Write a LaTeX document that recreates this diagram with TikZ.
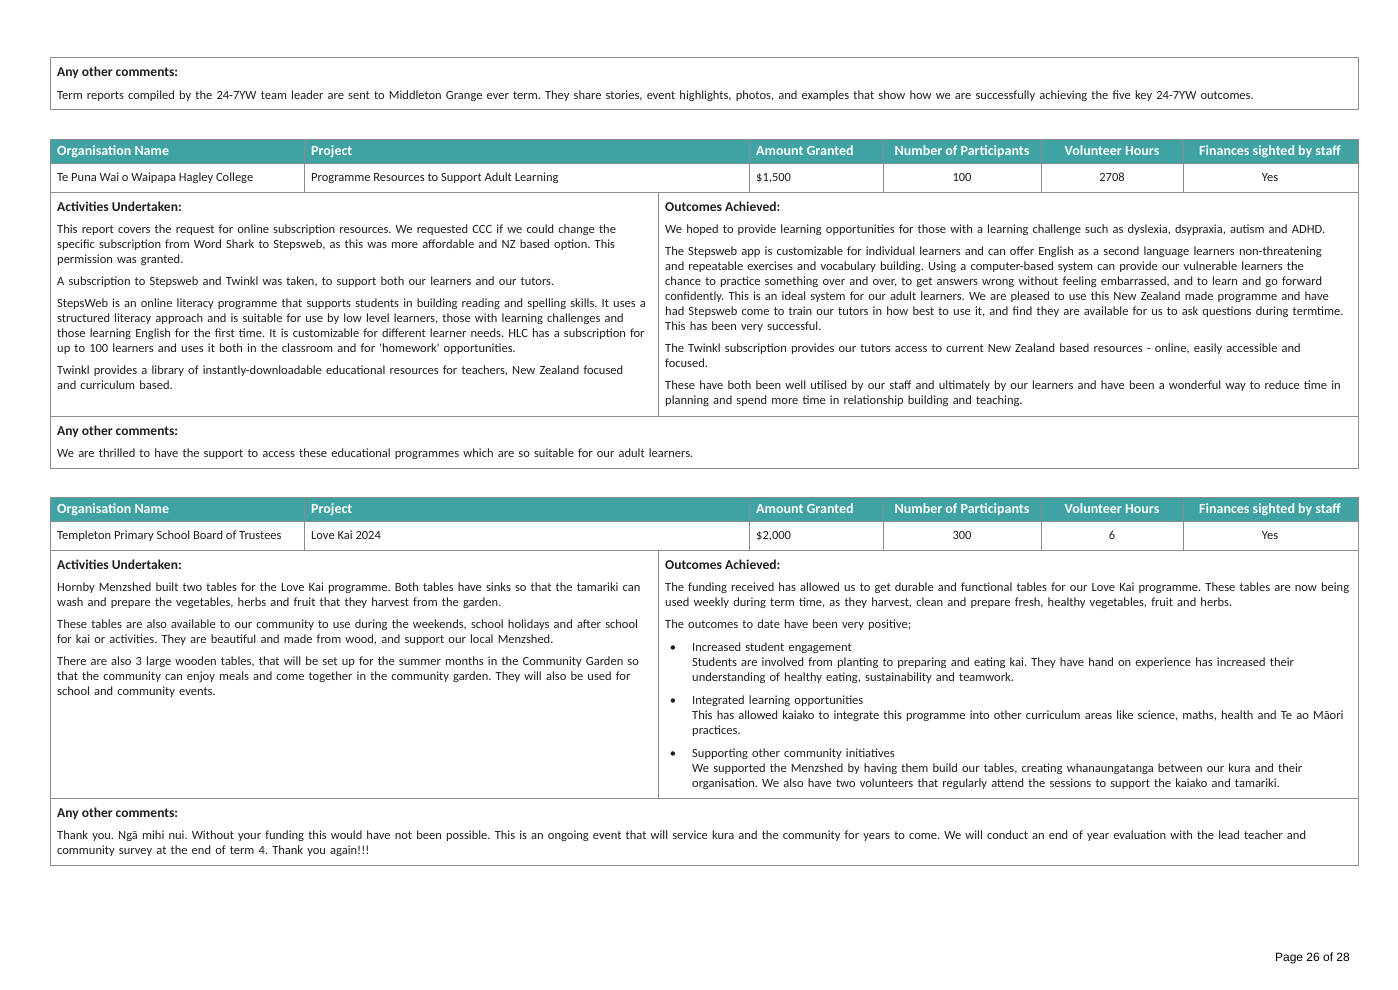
\documentclass[tikz,border=0pt]{standalone}
\usepackage{fontspec}
\setmainfont{Carlito}
\newfontfamily\pagefont{Liberation Sans}
\definecolor{tealhead}{HTML}{3FA2A3}
\definecolor{gridgrey}{HTML}{8C8C8C}
\definecolor{inkgrey}{HTML}{1E1E1E}
\newcommand\bodysize{\fontsize{12.5}{15}\selectfont}
\newcommand\titlesize{\fontsize{13.5}{15}\selectfont}
\newcommand\headsize{\fontsize{14}{15}\selectfont}
\frenchspacing
\begin{document}
\begin{tikzpicture}[x=1pt,y=-1pt,
  grid/.style={draw=gridgrey,line width=1pt},
  headtext/.style={font=\bfseries\headsize,text=white,inner sep=0pt},
  celltext/.style={font=\bodysize,text=inkgrey,inner sep=0pt},
  para/.style={celltext,anchor=base west,align=left,text width=1000pt},
  title/.style={celltext,font=\bfseries\titlesize,anchor=base west}]
\useasboundingbox (0,0) rectangle (1398,989);
\fill[white] (0,0) rectangle (1398,989);

% comments of the entry before
\draw[grid] (50,57) rectangle (1358,109);
\node[title] (prevcomtitle) at (57,76) {Any other comments:};
\node[para,text width=1290pt] (prevcomtext) at (57,99) {Term reports compiled by the 24-7YW team leader are sent to Middleton Grange ever term. They share stories, event highlights, photos, and examples that show how we are successfully achieving the five key 24-7YW outcomes.};

% header rows and grid of both tables
\foreach \t/\c/\b in {139/416/468,497/798/865}{
  \fill[tealhead] (50,\t) rectangle (1358,\t+24);
  \node[headtext,anchor=base west] (orghead-\t) at (57,\t+16) {Organisation Name};
  \node[headtext,anchor=base west] (projhead-\t) at (311,\t+16) {Project};
  \node[headtext,anchor=base west] (amounthead-\t) at (756,\t+16) {Amount Granted};
  \node[headtext,anchor=base] (parthead-\t) at (962,\t+16) {Number of Participants};
  \node[headtext,anchor=base] (hourshead-\t) at (1112,\t+16) {Volunteer Hours};
  \node[headtext,anchor=base] (finhead-\t) at (1270,\t+16) {Finances sighted by staff};
  \draw[grid] (50,\t) rectangle (1358,\b);
  \draw[grid] (50,\t+24) -- (1358,\t+24);
  \draw[grid] (50,\t+53) -- (1358,\t+53);
  \draw[grid] (50,\c) -- (1358,\c);
  \foreach \x in {304,749,883,1041,1183}
    \draw[grid] (\x,\t) -- (\x,\t+53);
  \draw[grid] (658,\t+53) -- (658,\c);
}

% Te Puna Wai o Waipapa Hagley College
\node[celltext,anchor=base west] (org1) at (57,181) {Te Puna Wai o Waipapa Hagley College};
\node[celltext,anchor=base west] (proj1) at (311,181) {Programme Resources to Support Adult Learning};
\node[celltext,anchor=base west] (amount1) at (756,181) {\$1,500};
\node[celltext,anchor=base] (part1) at (962,181) {100};
\node[celltext,anchor=base] (hours1) at (1112,181) {2708};
\node[celltext,anchor=base] (fin1) at (1270,181) {Yes};

\node[title] (acttitle1) at (57,211) {Activities Undertaken:};
\node[para] (acttext1) at (57,233) {This report covers the request for online subscription resources. We requested CCC if we could change the\\
specific subscription from Word Shark to Stepsweb, as this was more affordable and NZ based option. This\\
permission was granted.\\[7pt]
A subscription to Stepsweb and Twinkl was taken, to support both our learners and our tutors.\\[7pt]
StepsWeb is an online literacy programme that supports students in building reading and spelling skills. It uses a\\
structured literacy approach and is suitable for use by low level learners, those with learning challenges and\\
those learning English for the first time. It is customizable for different learner needs. HLC has a subscription for\\
up to 100 learners and uses it both in the classroom and for \textquotesingle homework\textquotesingle\ opportunities.\\[7pt]
Twinkl provides a library of instantly-downloadable educational resources for teachers, New Zealand focused\\
and curriculum based.};

\node[title] (outtitle1) at (665,211) {Outcomes Achieved:};
\node[para] (outtext1) at (665,233) {We hoped to provide learning opportunities for those with a learning challenge such as dyslexia, dsypraxia, autism and ADHD.\\[7pt]
The Stepsweb app is customizable for individual learners and can offer English as a second language learners non-threatening\\
and repeatable exercises and vocabulary building. Using a computer-based system can provide our vulnerable learners the\\
chance to practice something over and over, to get answers wrong without feeling embarrassed, and to learn and go forward\\
confidently. This is an ideal system for our adult learners. We are pleased to use this New Zealand made programme and have\\
had Stepsweb come to train our tutors in how best to use it, and find they are available for us to ask questions during termtime.\\
This has been very successful.\\[7pt]
The Twinkl subscription provides our tutors access to current New Zealand based resources - online, easily accessible and\\
focused.\\[7pt]
These have both been well utilised by our staff and ultimately by our learners and have been a wonderful way to reduce time in\\
planning and spend more time in relationship building and teaching.};

\node[title] (comtitle1) at (57,435) {Any other comments:};
\node[para,text width=1290pt] (comtext1) at (57,457) {We are thrilled to have the support to access these educational programmes which are so suitable for our adult learners.};

% Templeton Primary School Board of Trustees
\node[celltext,anchor=base west] (org2) at (57,539) {Templeton Primary School Board of Trustees};
\node[celltext,anchor=base west] (proj2) at (311,539) {Love Kai 2024};
\node[celltext,anchor=base west] (amount2) at (756,539) {\$2,000};
\node[celltext,anchor=base] (part2) at (962,539) {300};
\node[celltext,anchor=base] (hours2) at (1112,539) {6};
\node[celltext,anchor=base] (fin2) at (1270,539) {Yes};

\node[title] (acttitle2) at (57,569) {Activities Undertaken:};
\node[para] (acttext2) at (57,591) {Hornby Menzshed built two tables for the Love Kai programme. Both tables have sinks so that the tamariki can\\
wash and prepare the vegetables, herbs and fruit that they harvest from the garden.\\[7pt]
These tables are also available to our community to use during the weekends, school holidays and after school\\
for kai or activities. They are beautiful and made from wood, and support our local Menzshed.\\[7pt]
There are also 3 large wooden tables, that will be set up for the summer months in the Community Garden so\\
that the community can enjoy meals and come together in the community garden. They will also be used for\\
school and community events.};

\node[title] (outtitle2) at (665,569) {Outcomes Achieved:};
\node[para] (outtext2) at (665,591) {The funding received has allowed us to get durable and functional tables for our Love Kai programme. These tables are now being\\
used weekly during term time, as they harvest, clean and prepare fresh, healthy vegetables, fruit and herbs.\\[7pt]
The outcomes to date have been very positive;};
\foreach \y/\name in {651/engage,704/integrate,757/support}
  \node[celltext,anchor=base] (bullet-\name) at (673,\y) {•};
\node[para] (engage) at (692,651) {Increased student engagement\\
Students are involved from planting to preparing and eating kai. They have hand on experience has increased their\\
understanding of healthy eating, sustainability and teamwork.};
\node[para] (integrate) at (692,704) {Integrated learning opportunities\\
This has allowed kaiako to integrate this programme into other curriculum areas like science, maths, health and Te ao Māori\\
practices.};
\node[para] (support) at (692,757) {Supporting other community initiatives\\
We supported the Menzshed by having them build our tables, creating whanaungatanga between our kura and their\\
organisation. We also have two volunteers that regularly attend the sessions to support the kaiako and tamariki.};

\node[title] (comtitle2) at (57,817) {Any other comments:};
\node[para,text width=1290pt] (comtext2) at (57,839) {Thank you. Ngā mihi nui. Without your funding this would have not been possible. This is an ongoing event that will service kura and the community for years to come. We will conduct an end of year evaluation with the lead teacher and\\
community survey at the end of term 4. Thank you again!!!};

% page number
\node[inner sep=0pt,anchor=base east,font=\pagefont\fontsize{12}{14}\selectfont] (pageno) at (1350,961) {Page 26 of 28};
\end{tikzpicture}
\end{document}
